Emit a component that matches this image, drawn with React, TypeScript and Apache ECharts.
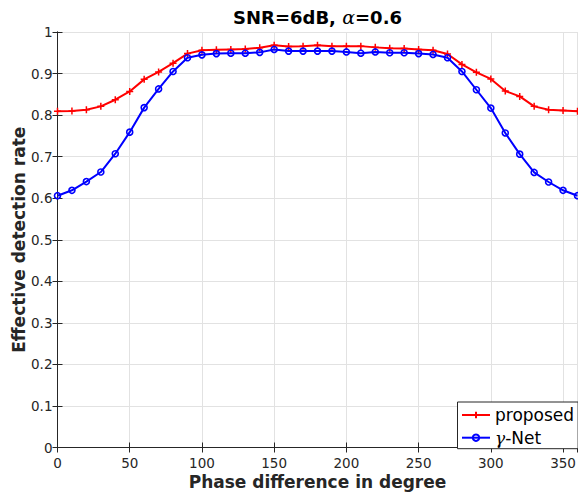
import React, { useEffect, useRef } from 'react';
import * as echarts from 'echarts';

const phaseDeg = [0, 10, 20, 30, 40, 50, 60, 70, 80, 90, 100, 110, 120, 130, 140, 150, 160, 170, 180, 190, 200, 210, 220, 230, 240, 250, 260, 270, 280, 290, 300, 310, 320, 330, 340, 350, 360];

const proposed = [0.809, 0.810, 0.813, 0.821, 0.837, 0.857, 0.886, 0.904, 0.925, 0.948, 0.956, 0.957, 0.958, 0.959, 0.962, 0.968, 0.965, 0.966, 0.968, 0.966, 0.966, 0.966, 0.963, 0.961, 0.960, 0.958, 0.956, 0.947, 0.922, 0.903, 0.887, 0.858, 0.845, 0.821, 0.813, 0.811, 0.809];

const gammaNet = [0.606, 0.619, 0.640, 0.663, 0.707, 0.759, 0.818, 0.863, 0.905, 0.938, 0.945, 0.948, 0.949, 0.949, 0.951, 0.958, 0.954, 0.954, 0.954, 0.954, 0.952, 0.949, 0.952, 0.950, 0.950, 0.948, 0.946, 0.938, 0.905, 0.861, 0.817, 0.757, 0.706, 0.662, 0.639, 0.619, 0.606];

const seriesNames = ['proposed', 'γ-Net'];
const titleParts = ['SNR=6dB, ', 'α', '=0.6'];
const xAxisTitle = 'Phase difference in degree';
const yAxisTitle = 'Effective detection rate';

const FONT = 'DejaVu Sans';
const TXT = '#262626';

export default function App() {
  const ref = useRef<HTMLDivElement>(null);
  useEffect(() => {
    const chart = echarts.init(ref.current!, null, { renderer: 'svg' });
    const gridCfg = { left: 57.5, right: 0.5, top: 32, bottom: 45.5 };
    const axisLine = { show: true, lineStyle: { color: TXT, width: 1 } };
    const axisTick = { show: true, inside: true, length: 5, lineStyle: { color: TXT, width: 1 } };
    chart.setOption({
      animation: false,
      backgroundColor: '#fff',
      grid: { ...gridCfg, containLabel: false, outerBoundsMode: 'none' },
      graphic: [
        {
          type: 'text',
          x: 317.5,
          y: 17,
          style: {
            text: `{b|${titleParts[0]}}{a|${titleParts[1]}}{b|${titleParts[2]}}`,
            align: 'center',
            verticalAlign: 'middle',
            rich: {
              b: { fontFamily: FONT, fontWeight: 'bold', fontSize: 18, fill: '#000' },
              a: { fontFamily: 'DejaVu Serif', fontStyle: 'italic', fontSize: 19, fill: '#000' },
            },
          },
        },
      ],
      legend: {
        data: seriesNames,
        orient: 'vertical',
        left: 457.5,
        top: 402,
        padding: [3, 4, 1, 3.5],
        itemWidth: 28,
        itemHeight: 8,
        itemGap: 2.7,
        backgroundColor: '#fff',
        borderColor: TXT,
        borderWidth: 1,
        borderRadius: 0,
        selectedMode: false,
        formatter: (name: string) => (name === 'γ-Net' ? '{g|γ}{n|-Net}' : '{n|' + name + '}'),
        textStyle: {
          fontFamily: FONT,
          fontSize: 17,
          color: '#000',
          lineHeight: 20,
          rich: {
            n: { fontFamily: FONT, fontSize: 17, color: '#000', lineHeight: 20 },
            g: { fontFamily: 'DejaVu Serif', fontStyle: 'italic', fontSize: 17, color: '#000', lineHeight: 20 },
          },
        },
      },
      xAxis: [
        {
          type: 'value',
          min: 0,
          max: 360,
          interval: 50,
          name: xAxisTitle,
          nameLocation: 'middle',
          nameGap: 25.5,
          nameMoveOverlap: false,
          nameTextStyle: { fontFamily: FONT, fontWeight: 'bold', fontSize: 17, color: TXT },
          axisLine,
          axisTick,
          axisLabel: {
            margin: 8,
            fontFamily: FONT,
            fontSize: 13.5,
            color: TXT,
            formatter: (v: number) => (v % 50 === 0 && v < 360 ? String(v) : ''),
          },
          splitLine: { show: true, lineStyle: { color: '#e2e2e2', width: 1 } },
        },
        {
          type: 'value',
          position: 'top',
          min: 0,
          max: 360,
          interval: 50,
          axisLine,
          axisTick,
          axisLabel: { show: false },
          splitLine: { show: false },
        },
      ],
      yAxis: [
        {
          type: 'value',
          min: 0,
          max: 1,
          interval: 0.1,
          name: yAxisTitle,
          nameLocation: 'middle',
          nameGap: 30,
          nameMoveOverlap: false,
          nameRotate: 90,
          nameTextStyle: { fontFamily: FONT, fontWeight: 'bold', fontSize: 17, color: TXT },
          axisLine,
          axisTick,
          axisLabel: {
            margin: 5,
            fontFamily: FONT,
            fontSize: 13.5,
            color: TXT,
            formatter: (v: number) => String(parseFloat(v.toFixed(1))),
          },
          splitLine: { show: true, lineStyle: { color: '#e2e2e2', width: 1 } },
        },
        {
          type: 'value',
          position: 'right',
          min: 0,
          max: 1,
          interval: 0.1,
          axisLine,
          axisTick,
          axisLabel: { show: false },
          splitLine: { show: false },
        },
      ],
      series: [
        {
          name: seriesNames[0],
          type: 'line',
          data: phaseDeg.map((d, i) => [d, proposed[i]]),
          symbol: 'path://M0,5 L10,5 M5,0 L5,10',
          symbolSize: 7,
          showAllSymbol: true,
          itemStyle: { color: '#ff0000', borderColor: '#ff0000', borderWidth: 1.5 },
          lineStyle: { color: '#ff0000', width: 2 },
          emphasis: { disabled: true },
          z: 2,
        },
        {
          name: seriesNames[1],
          type: 'line',
          data: phaseDeg.map((d, i) => [d, gammaNet[i]]),
          symbol: 'circle',
          symbolSize: 6,
          showAllSymbol: true,
          itemStyle: { color: 'rgba(0,0,0,0)', borderColor: '#0000ff', borderWidth: 1.6 },
          lineStyle: { color: '#0000ff', width: 2 },
          emphasis: { disabled: true },
          z: 3,
        },
      ],
    });
    return () => chart.dispose();
  }, []);
  return (
    <div
      ref={ref}
      style={{ position: 'fixed', left: 0, top: 0, width: 578, height: 493, background: '#fff' }}
    />
  );
}
